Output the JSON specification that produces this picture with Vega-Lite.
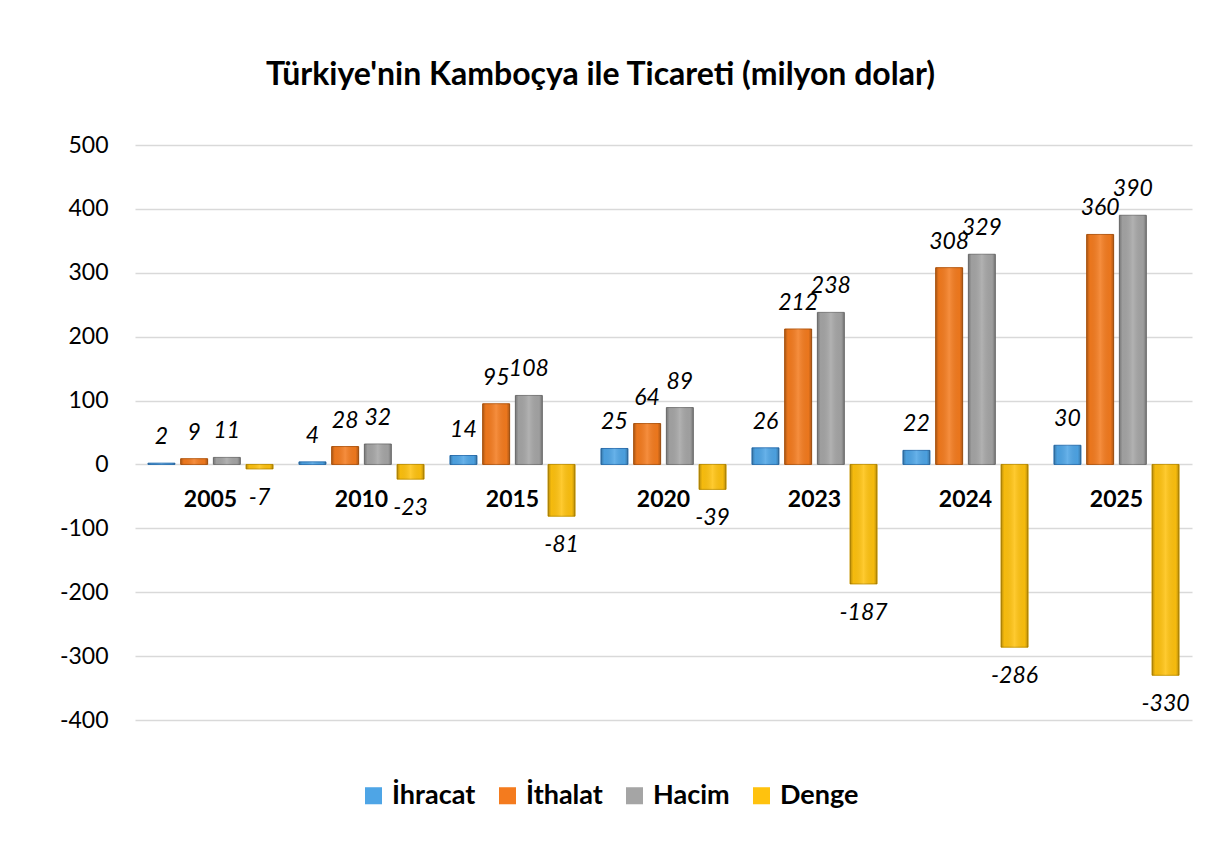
{
  "$schema": "https://vega.github.io/schema/vega-lite/v6.json",
  "width": 1057,
  "height": 575,
  "autosize": {"type": "none"},
  "padding": {"left": 135, "top": 145, "right": 27, "bottom": 123},
  "background": "white",
  "title": {
    "text": "Türkiye'nin Kamboçya ile Ticareti (milyon dolar)",
    "font": "Lato",
    "fontSize": 32,
    "fontWeight": "bold",
    "color": "#000000",
    "anchor": "middle",
    "dx": -63,
    "baseline": "bottom",
    "offset": 10
  },
  "data": {
    "values": [
      {"year": "2005", "series": "İhracat", "value": 2},
      {"year": "2005", "series": "İthalat", "value": 9},
      {"year": "2005", "series": "Hacim", "value": 11},
      {"year": "2005", "series": "Denge", "value": -7},
      {"year": "2010", "series": "İhracat", "value": 4},
      {"year": "2010", "series": "İthalat", "value": 28},
      {"year": "2010", "series": "Hacim", "value": 32},
      {"year": "2010", "series": "Denge", "value": -23},
      {"year": "2015", "series": "İhracat", "value": 14},
      {"year": "2015", "series": "İthalat", "value": 95},
      {"year": "2015", "series": "Hacim", "value": 108},
      {"year": "2015", "series": "Denge", "value": -81},
      {"year": "2020", "series": "İhracat", "value": 25},
      {"year": "2020", "series": "İthalat", "value": 64},
      {"year": "2020", "series": "Hacim", "value": 89},
      {"year": "2020", "series": "Denge", "value": -39},
      {"year": "2023", "series": "İhracat", "value": 26},
      {"year": "2023", "series": "İthalat", "value": 212},
      {"year": "2023", "series": "Hacim", "value": 238},
      {"year": "2023", "series": "Denge", "value": -187},
      {"year": "2024", "series": "İhracat", "value": 22},
      {"year": "2024", "series": "İthalat", "value": 308},
      {"year": "2024", "series": "Hacim", "value": 329},
      {"year": "2024", "series": "Denge", "value": -286},
      {"year": "2025", "series": "İhracat", "value": 30},
      {"year": "2025", "series": "İthalat", "value": 360},
      {"year": "2025", "series": "Hacim", "value": 390},
      {"year": "2025", "series": "Denge", "value": -330}
    ]
  },
  "encoding": {
    "x": {
      "field": "year",
      "type": "nominal",
      "sort": null,
      "scale": {"paddingInner": 0, "paddingOuter": 0},
      "axis": null
    },
    "y": {
      "field": "value",
      "type": "quantitative",
      "scale": {"domain": [-400, 500], "nice": false, "zero": false},
      "axis": {
        "title": null,
        "values": [-400, -300, -200, -100, 0, 100, 200, 300, 400, 500],
        "labelExpr": "'' + datum.value",
        "domain": false,
        "ticks": false,
        "tickSize": 0,
        "labelPadding": 27,
        "labelFont": "Lato",
        "labelFontSize": 23,
        "labelColor": "#000000",
        "gridColor": "#d9d9d9",
        "gridWidth": 1.5
      }
    }
  },
  "layer": [
    {
      "mark": {"type": "bar", "strokeWidth": 1},
      "encoding": {
        "xOffset": {
          "field": "series",
          "type": "nominal",
          "sort": ["İhracat", "İthalat", "Hacim", "Denge"],
          "scale": {"paddingInner": 0.174, "paddingOuter": 0.396}
        },
        "color": {
          "field": "series",
          "type": "nominal",
          "sort": ["İhracat", "İthalat", "Hacim", "Denge"],
          "scale": {
            "domain": ["İhracat", "İthalat", "Hacim", "Denge"],
            "range": ["#4ea5e6", "#f47b1e", "#a5a5a5", "#ffc20e"]
          },
          "legend": {
            "title": null,
            "orient": "none",
            "legendX": 225,
            "legendY": 637,
            "direction": "horizontal",
            "symbolType": "square",
            "symbolSize": 290,
            "symbolStrokeWidth": 0,
            "labelFont": "Lato",
            "labelFontSize": 27,
            "labelFontWeight": "bold",
            "labelColor": "#000000",
            "labelOffset": 5,
            "columnPadding": 18,
            "padding": 0
          }
        },
        "stroke": {
          "field": "series",
          "type": "nominal",
          "scale": {
            "domain": ["İhracat", "İthalat", "Hacim", "Denge"],
            "range": ["#2e75b6", "#b85a10", "#7a7a7a", "#c99700"]
          },
          "legend": null
        }
      }
    },
    {
      "mark": {
        "type": "bar",
        "fill": {
          "gradient": "linear",
          "x1": 0, "y1": 0, "x2": 1, "y2": 0,
          "stops": [
            {"offset": 0, "color": "rgba(0,0,0,0.28)"},
            {"offset": 0.12, "color": "rgba(0,0,0,0.04)"},
            {"offset": 0.5, "color": "rgba(255,255,255,0.14)"},
            {"offset": 0.88, "color": "rgba(0,0,0,0.04)"},
            {"offset": 1, "color": "rgba(0,0,0,0.28)"}
          ]
        }
      },
      "encoding": {
        "xOffset": {
          "field": "series",
          "type": "nominal",
          "sort": ["İhracat", "İthalat", "Hacim", "Denge"]
        }
      }
    },
    {
      "transform": [{"filter": "datum.value >= 0"}],
      "mark": {
        "type": "text",
        "font": "Lato",
        "fontSize": 23,
        "fontStyle": "italic",
        "color": "#000000",
        "baseline": "middle",
        "dy": -26
      },
      "encoding": {
        "xOffset": {
          "field": "series",
          "type": "nominal",
          "sort": ["İhracat", "İthalat", "Hacim", "Denge"]
        },
        "text": {"field": "value", "type": "nominal"}
      }
    },
    {
      "transform": [{"filter": "datum.value < 0"}],
      "mark": {
        "type": "text",
        "font": "Lato",
        "fontSize": 23,
        "fontStyle": "italic",
        "color": "#000000",
        "baseline": "middle",
        "dy": 29
      },
      "encoding": {
        "xOffset": {
          "field": "series",
          "type": "nominal",
          "sort": ["İhracat", "İthalat", "Hacim", "Denge"]
        },
        "text": {"field": "value", "type": "nominal"}
      }
    },
    {
      "transform": [{"filter": "datum.series === 'İhracat'"}],
      "mark": {
        "type": "text",
        "font": "Lato",
        "fontSize": 23,
        "fontWeight": "bold",
        "color": "#000000",
        "baseline": "middle",
        "dy": 36
      },
      "encoding": {
        "y": {"datum": 0},
        "text": {"field": "year", "type": "nominal"}
      }
    }
  ],
  "config": {
    "view": {"stroke": null}
  }
}
